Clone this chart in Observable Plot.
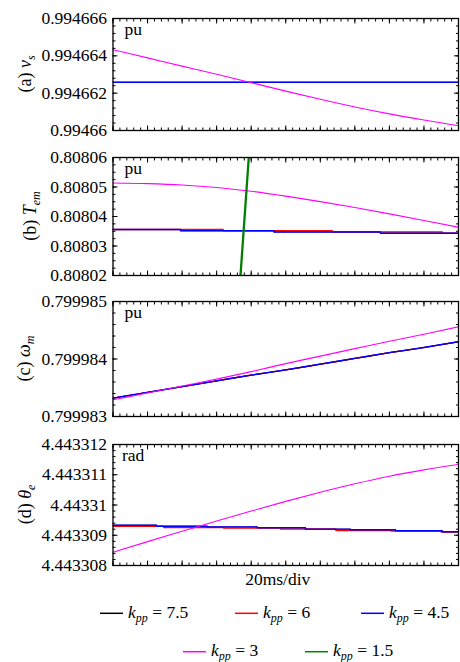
<!DOCTYPE html>
<html><head><meta charset="utf-8">
<script src="https://cdn.jsdelivr.net/npm/d3@7"></script>
<script src="https://cdn.jsdelivr.net/npm/@observablehq/plot@0.6"></script>
<style>
body{margin:0;background:#fff;}
#chart{position:relative;width:460px;height:662px;background:#fff;}
#chart svg{display:block;}
</style></head><body><div id="chart"></div>
<script>
// ---------- data (time in ms, 20 ms/div, 10 divisions) ----------
const timeMs = [0, 20, 40, 60, 80, 100, 120, 140, 160, 180, 200];
const timeEnds = [0, 200];

// (a) v_s  [pu]
const vsTicks = [0.99466, 0.994662, 0.994664, 0.994666];
const vsTickLabels = ["0.99466", "0.994662", "0.994664", "0.994666"];
const vsK3 = [0.99466433, 0.99466389, 0.99466345, 0.99466301, 0.99466256, 0.99466211, 0.99466167, 0.99466126, 0.99466089, 0.99466056, 0.99466025];
const vsK75 = [0.99466258, 0.99466258];
const vsK6 = [0.99466258, 0.99466258];
const vsK45 = [0.99466258, 0.99466258];

// (b) T_em  [pu]
const temTicks = [0.80802, 0.80803, 0.80804, 0.80805, 0.80806];
const temTickLabels = ["0.80802", "0.80803", "0.80804", "0.80805", "0.80806"];
const temK3 = [0.80805135, 0.80805115, 0.80805070, 0.80804985, 0.80804855, 0.80804690, 0.80804505, 0.80804305, 0.80804090, 0.80803865, 0.80803635];
const temK45Time = [0, 39.1, 93.1, 154.8, 200];
const temK45 = [0.808035574, 0.808035169, 0.808034764, 0.808034358, 0.808034358];
const temK75 = [0.808035574, 0.808035169, 0.808034764, 0.808034358, 0.808034358];
const temK6Time = [0, 63.8, 126.9, 190.6, 200];
const temK6 = [0.808035574, 0.808035169, 0.808034764, 0.808034358, 0.808034358];
const temK15Time = [72, 80];
const temK15 = [0.808005, 0.8080717];

// (c) omega_m  [pu]
const omTicks = [0.799983, 0.799984, 0.799985];
const omTickLabels = ["0.799983", "0.799984", "0.799985"];
const omK3 = [0.79998329, 0.79998341, 0.79998353, 0.79998365, 0.79998378, 0.79998392, 0.79998405, 0.79998418, 0.79998431, 0.79998443, 0.79998456];
const omK75 = [0.79998332, 0.79998342, 0.79998352, 0.79998362, 0.79998372, 0.79998381, 0.79998391, 0.79998401, 0.79998411, 0.79998420, 0.79998430];
const omK6 = [0.79998332, 0.79998342, 0.79998352, 0.79998362, 0.79998372, 0.79998381, 0.79998391, 0.79998401, 0.79998411, 0.79998420, 0.79998430];
const omK45 = [0.79998332, 0.79998342, 0.79998352, 0.79998362, 0.79998372, 0.79998381, 0.79998391, 0.79998401, 0.79998411, 0.79998420, 0.79998430];

// (d) theta_e  [rad]
const thTicks = [4.443308, 4.443309, 4.44331, 4.443311, 4.443312];
const thTickLabels = ["4.443308", "4.443309", "4.44331", "4.443311", "4.443312"];
const thK3 = [4.44330844, 4.44330879, 4.44330913, 4.44330947, 4.44330980, 4.44331012, 4.44331042, 4.44331070, 4.44331095, 4.44331116, 4.44331134];
const thK45Time = [0, 25.2, 54.5, 83.5, 111.4, 137.5, 163.5, 190.6, 200];
const thK45 = [4.443309333, 4.443309300, 4.443309277, 4.443309247, 4.443309201, 4.443309181, 4.443309148, 4.443309114, 4.443309114];
const thK75 = [4.443309333, 4.443309300, 4.443309277, 4.443309247, 4.443309201, 4.443309181, 4.443309148, 4.443309114, 4.443309114];
const thK6Time = [0, 29.4, 64, 97, 129, 161, 190, 200];
const thK6 = [4.443309294, 4.443309257, 4.443309237, 4.443309204, 4.443309158, 4.443309138, 4.443309108, 4.443309108];

// legend
const legendValues = ["7.5", "6", "4.5", "3", "1.5"];
const legendColors = ["#000000", "#ff0000", "#0000ff", "#ff00ff", "#008000"];

// ---------- drawing ----------
const FONT = '"Liberation Serif", "Times New Roman", serif';
const xDomain = [0, 200];
const xMajor = d3.range(11).map(i => xDomain[0] + (xDomain[1] - xDomain[0]) * i / 10);
const xMinor = d3.range(51).map(i => xDomain[0] + (xDomain[1] - xDomain[0]) * i / 50);

function rows(ts, vs) { return ts.map((t, i) => ({t, v: vs[i]})); }
function line(ts, vs, stroke, strokeWidth, curve = "monotone-x") {
  return Plot.line(rows(ts, vs), {x: "t", y: "v", stroke, strokeWidth, curve, clip: "frame"});
}
const blank = () => "";

function panel({ticks, labels, minorN, marginTop, plotH, marginBottom, unit, unitDx, marks, title, titleX, extra = []}) {
  const lo = ticks[0], hi = ticks[ticks.length - 1];
  const yMinor = d3.range(minorN + 1).map(i => lo + (hi - lo) * i / minorN);
  const lab = new Map(ticks.map((t, i) => [t, labels[i]]));
  const svg = Plot.plot({
    width: 460, height: marginTop + plotH + marginBottom,
    marginLeft: 112.5, marginRight: 2, marginTop, marginBottom,
    style: {fontFamily: FONT, fontSize: "17.5px", background: "white", color: "black", overflow: "visible"},
    x: {domain: xDomain},
    y: {domain: [lo, hi]},
    marks: [
      ...marks,
      Plot.axisX({anchor: "bottom", ticks: xMinor, tickSize: -2.5, tickFormat: blank, label: null}),
      Plot.axisX({anchor: "bottom", ticks: xMajor, tickSize: -4.5, tickFormat: blank, label: null}),
      Plot.axisX({anchor: "top", ticks: xMinor, tickSize: -2.5, tickFormat: blank, label: null}),
      Plot.axisX({anchor: "top", ticks: xMajor, tickSize: -4.5, tickFormat: blank, label: null}),
      Plot.axisY({anchor: "left", ticks: yMinor, tickSize: -3, tickFormat: blank, label: null}),
      Plot.axisY({anchor: "left", ticks: ticks, tickSize: -5, tickFormat: blank, label: null}),
      Plot.axisY({anchor: "right", ticks: yMinor, tickSize: -3, tickFormat: blank, label: null}),
      Plot.axisY({anchor: "right", ticks: ticks, tickSize: -5, tickFormat: blank, label: null}),
      Plot.axisY({anchor: "left", ticks: ticks, tickSize: 0, tickPadding: 6, tickFormat: d => lab.get(d), label: null, fontSize: 17.5, fill: "black"}),
      Plot.frame({stroke: "black", strokeWidth: 1.3}),
      Plot.text([unit], {frameAnchor: "top-left", dx: unitDx, dy: 4, textAnchor: "start", lineAnchor: "top", fontSize: 17.5, fill: "black"}),
      ...extra
    ]
  });
  // rotated y title with italic symbol + subscript
  const cy = marginTop + plotH / 2;
  const tx = d3.select(svg).append("text")
    .attr("transform", `translate(${titleX},${cy}) rotate(-90)`)
    .attr("text-anchor", "middle")
    .attr("font-family", FONT).attr("font-size", 18).attr("fill", "black");
  tx.append("tspan").text(title[0] + " ");
  tx.append("tspan").attr("font-style", "italic").text(title[1]);
  tx.append("tspan").attr("font-style", "italic").attr("font-size", 12).attr("dy", 4).text(title[2]);
  return svg;
}

const chart = document.getElementById("chart");

chart.appendChild(panel({
  ticks: vsTicks, labels: vsTickLabels, minorN: 15,
  marginTop: 18, plotH: 112, marginBottom: 13, unit: "pu", unitDx: 11.5,
  title: ["(a)", "v", "s"], titleX: 31,
  marks: [
    line(timeEnds, vsK75, "#000000", 0.8),
    line(timeEnds, vsK6, "#ff0000", 0.8),
    line(timeEnds, vsK45, "#0000ff", 1.5),
    line(timeMs, vsK3, "#ff00ff", 1.1)
  ]
}));

chart.appendChild(panel({
  ticks: temTicks, labels: temTickLabels, minorN: 16,
  marginTop: 14, plotH: 118, marginBottom: 13, unit: "pu", unitDx: 11.5,
  title: ["(b)", "T", "em"], titleX: 36,
  marks: [
    line(temK45Time, temK75, "#000000", 0.8, "step-after"),
    line(temK6Time, temK6, "#ff0000", 1.4, "step-after"),
    line(temK45Time, temK45, "#0000ff", 1.5, "step-after"),
    line(timeMs, temK3, "#ff00ff", 1.1),
    line(temK15Time, temK15, "#008000", 2.3, "linear")
  ]
}));

chart.appendChild(panel({
  ticks: omTicks, labels: omTickLabels, minorN: 10,
  marginTop: 13, plotH: 115, marginBottom: 14, unit: "pu", unitDx: 11.5,
  title: ["(c)", "ω", "m"], titleX: 30,
  marks: [
    line(timeMs, omK75, "#000000", 1.2),
    line(timeMs, omK6, "#ff0000", 1.2),
    line(timeMs, omK45, "#0000ff", 1.4),
    line(timeMs, omK3, "#ff00ff", 1.1)
  ]
}));

chart.appendChild(panel({
  ticks: thTicks, labels: thTickLabels, minorN: 20,
  marginTop: 14, plotH: 121, marginBottom: 35, unit: "rad", unitDx: 9,
  title: ["(d)", "θ", "e"], titleX: 31,
  marks: [
    line(thK45Time, thK75, "#000000", 0.8, "step-after"),
    line(thK6Time, thK6, "#ff0000", 1.5, "step-after"),
    line(thK45Time, thK45, "#0000ff", 1.4, "step-after"),
    line(timeMs, thK3, "#ff00ff", 1.1)
  ],
  extra: [
    Plot.text(["20ms/div"], {frameAnchor: "bottom", dx: -8, dy: 14, lineAnchor: "middle", fontSize: 17.5, fill: "black"})
  ]
}));

// legend below the plots
const leg = d3.select(chart).append("svg").attr("width", 460).attr("height", 62)
  .style("font-family", FONT).style("font-size", "17.5px");
const legPos = [[100, 13.3], [235, 13.3], [361, 13.3], [183, 51.7], [305, 51.7]];
legendValues.forEach((val, i) => {
  const [x, y] = legPos[i];
  leg.append("line").attr("x1", x).attr("x2", x + 23).attr("y1", y).attr("y2", y)
    .attr("stroke", legendColors[i]).attr("stroke-width", 1.5);
  const t = leg.append("text").attr("x", x + 28).attr("y", y + 4.5).attr("fill", "black");
  t.append("tspan").attr("font-style", "italic").text("k");
  t.append("tspan").attr("font-style", "italic").attr("font-size", 12).attr("dy", 4).text("pp");
  t.append("tspan").attr("dy", -4).text(" = " + val);
});
</script>
</body></html>
